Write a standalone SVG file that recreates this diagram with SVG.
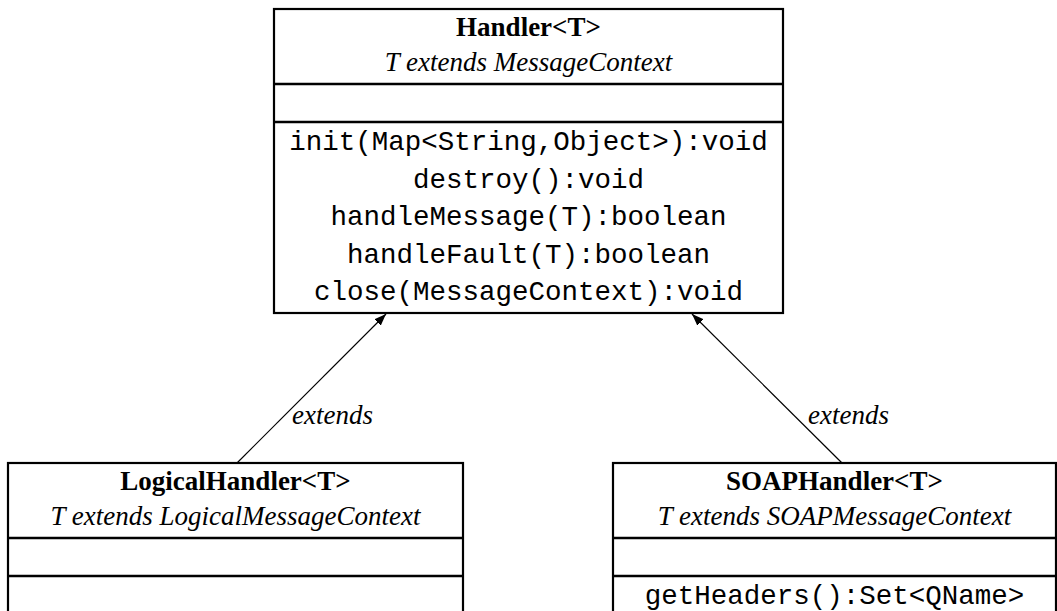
<svg xmlns="http://www.w3.org/2000/svg" width="1057" height="611" viewBox="0 0 1057 611">
<defs>
<style>
.box{fill:#fff;stroke:#000;stroke-width:2.2}
.div{stroke:#000;stroke-width:2.5}
.title{font-family:"Liberation Serif",serif;font-weight:bold;font-size:27px;text-anchor:middle;fill:#000}
.sub{font-family:"Liberation Serif",serif;font-style:italic;font-size:27px;text-anchor:middle;fill:#000}
.meth{font-family:"Liberation Mono",monospace;font-size:27.5px;text-anchor:middle;fill:#000}
.lbl{font-family:"Liberation Serif",serif;font-style:italic;font-size:27px;fill:#000}
.edge{stroke:#000;stroke-width:1.2;fill:none}
</style>
<marker id="arr" markerWidth="13" markerHeight="10" refX="12" refY="4.5" orient="auto" markerUnits="userSpaceOnUse">
<path d="M0,0 L12,4.5 L0,9 Z" fill="#000"/>
</marker>
</defs>
<g id="connectors">
<line class="edge" x1="237" y1="463" x2="386" y2="314" marker-end="url(#arr)"/>
<line class="edge" x1="842" y1="463" x2="692" y2="314" marker-end="url(#arr)"/>
<text class="lbl" x="292" y="424">extends</text>
<text class="lbl" x="808" y="424">extends</text>
</g>
<g id="handler">
<rect class="box" x="274" y="9" width="509" height="304"/>
<line class="div" x1="274" y1="84" x2="783" y2="84"/>
<line class="div" x1="274" y1="122" x2="783" y2="122"/>
<text class="title" x="528.5" y="36">Handler&lt;T&gt;</text>
<text class="sub" x="528.5" y="71">T extends MessageContext</text>
<text class="meth" x="528.5" y="150">init(Map&lt;String,Object&gt;):void</text>
<text class="meth" x="528.5" y="187.5">destroy():void</text>
<text class="meth" x="528.5" y="225">handleMessage(T):boolean</text>
<text class="meth" x="528.5" y="262.5">handleFault(T):boolean</text>
<text class="meth" x="528.5" y="300">close(MessageContext):void</text>
</g>
<g id="logicalHandler">
<rect class="box" x="8" y="463" width="455" height="180"/>
<line class="div" x1="8" y1="538" x2="463" y2="538"/>
<line class="div" x1="8" y1="576" x2="463" y2="576"/>
<text class="title" x="235.5" y="490">LogicalHandler&lt;T&gt;</text>
<text class="sub" x="235.5" y="525">T extends LogicalMessageContext</text>
</g>
<g id="soapHandler">
<rect class="box" x="613" y="463" width="443" height="180"/>
<line class="div" x1="613" y1="538" x2="1056" y2="538"/>
<line class="div" x1="613" y1="576" x2="1056" y2="576"/>
<text class="title" x="834.5" y="490">SOAPHandler&lt;T&gt;</text>
<text class="sub" x="834.5" y="525">T extends SOAPMessageContext</text>
<text class="meth" x="834.5" y="604">getHeaders():Set&lt;QName&gt;</text>
</g>
</svg>
